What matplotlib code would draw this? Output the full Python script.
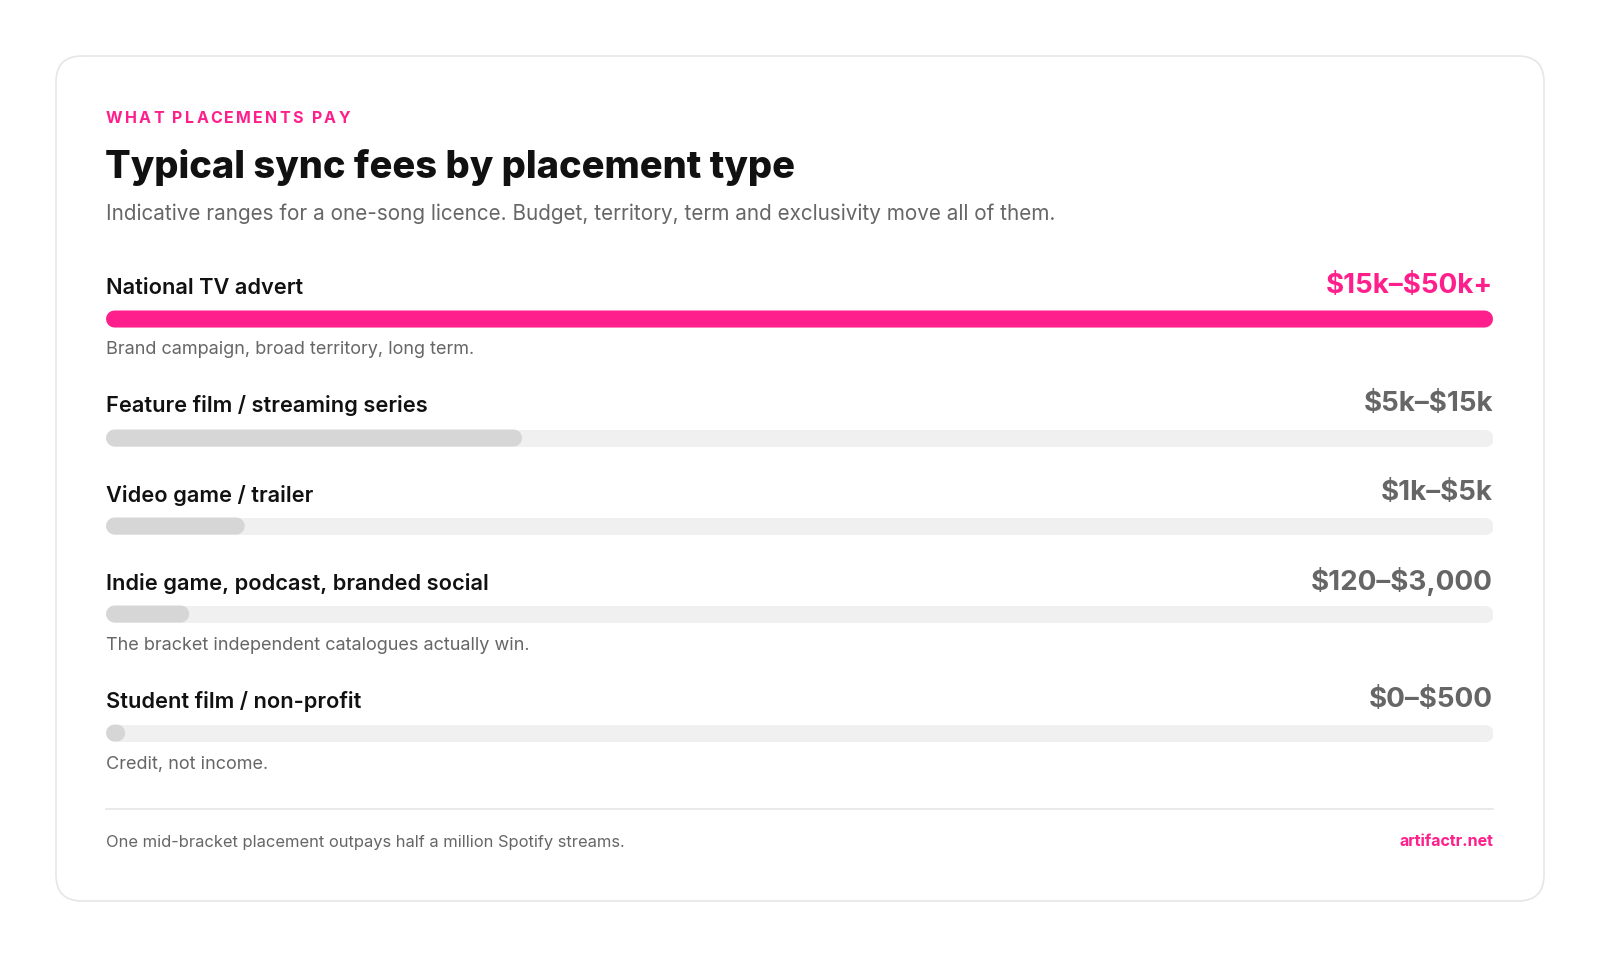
import matplotlib
matplotlib.use("Agg")
import matplotlib.pyplot as plt
from matplotlib.patches import FancyBboxPatch
from matplotlib.lines import Line2D

# --- data ---
labels = ["National TV advert", "Feature film / streaming series", "Video game / trailer",
          "Indie game, podcast, branded social", "Student film / non-profit"]
ranges = [r"\$15k–\$50k+", r"\$5k–\$15k", r"\$1k–\$5k", r"\$120–\$3,000", r"\$0–\$500"]
top_fee_k = [50, 15, 5, 3, 0.5]   # upper end of each range, $k
scale_max_k = 50
notes = ["Brand campaign, broad territory, long term.", "", "",
         "The bracket independent catalogues actually win.", "Credit, not income."]
highlight = [True, False, False, False, False]

tagline = "WHAT PLACEMENTS PAY"
title = "Typical sync fees by placement type"
subtitle = "Indicative ranges for a one-song licence. Budget, territory, term and exclusivity move all of them."
footer = "One mid-bracket placement outpays half a million Spotify streams."
source = "artifactr.net"

PINK = "#FF1F8C"
INK = "#111111"
GREY = "#666666"
TRACK = "#F0F0F0"
FILL = "#D6D6D6"
FONT = ["Inter", "DejaVu Sans"]

W, H = 1600, 956
X0, X1 = 106, 1493
label_y = [288, 406, 495, 583, 702]
bar_y = [319, 438, 526, 614, 733]
note_y = [350, None, None, 645, 764]
BAR_H = 17

fig = plt.figure(figsize=(16, 9.56), dpi=100)
ax = fig.add_axes([0, 0, 1, 1])
ax.set_xlim(0, W)
ax.set_ylim(H, 0)
ax.axis("off")

# card
card = FancyBboxPatch((56, 56), 1488, 845, boxstyle="round,pad=0,rounding_size=26",
                      fc="white", ec="#E6E6E6", lw=1.2)
ax.add_patch(card)

fig.canvas.draw()
renderer = fig.canvas.get_renderer()


def spaced_text(x, y, s, track, **kw):
    # draw char by char to mimic letter-spacing
    for ch in s:
        t = ax.text(x, y, ch, **kw)
        w = t.get_window_extent(renderer).width
        x += w + track


spaced_text(X0, 118.5, tagline, 2.3, fontsize=11.5, fontweight="bold", color=PINK,
            family=FONT, va="center", ha="left")
ax.text(X0 - 1, 167, title, fontsize=27.4, fontweight="heavy", color=INK, family=FONT,
        va="center", ha="left")
ax.text(X0, 214, subtitle, fontsize=14.9, color=GREY, family=FONT, va="center", ha="left")

# bars live in their own axes: x in $k on a 0..scale_max scale, y in pixels
bax = fig.add_axes([X0 / W, 0, (X1 - X0) / W, 1])
bax.set_xlim(0, scale_max_k)
bax.set_ylim(H, 0)
bax.axis("off")
bax.patch.set_alpha(0)
r = (BAR_H / 2) / (X1 - X0) * scale_max_k  # cap radius in data units
lw_pt = BAR_H * 72 / 100

for i, lab in enumerate(labels):
    ax.text(X0, label_y[i], lab, fontsize=15.7, fontweight="semibold", color=INK, family=FONT,
            va="center", ha="left")
    col = PINK if highlight[i] else GREY
    ax.text(X1, label_y[i] - 2, ranges[i], fontsize=20, fontweight="bold", color=col,
            family=FONT, va="center", ha="right")
    bax.add_line(Line2D([r, scale_max_k - r], [bar_y[i], bar_y[i]], lw=lw_pt, color=TRACK,
                        solid_capstyle="round"))
    v = max(top_fee_k[i], 2 * r + 0.08)
    fill = Line2D([r, v - r], [bar_y[i], bar_y[i]], lw=lw_pt,
                  color=PINK if highlight[i] else FILL, solid_capstyle="round")
    fill.set_snap(False)
    bax.add_line(fill)
    if notes[i]:
        ax.text(X0, note_y[i], notes[i], fontsize=13, color=GREY, family=FONT,
                va="center", ha="left")

ax.plot([X0, X1], [809, 809], color="#E6E6E6", lw=1.2)
ax.text(X0, 842, footer, fontsize=11.9, color=GREY, family=FONT, va="center", ha="left")
ax.text(X1, 842, source, fontsize=11.5, fontweight="bold", color=PINK, family=FONT,
        va="center", ha="right")

fig.savefig("out.png", dpi=100, facecolor="white")
